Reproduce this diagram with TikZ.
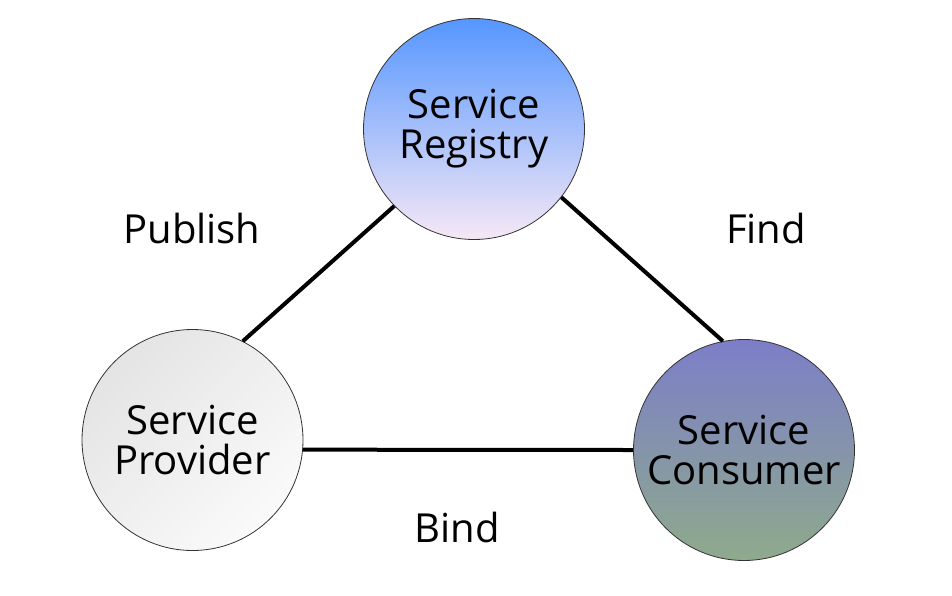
\documentclass[tikz,border=0pt]{standalone}
\usepackage{fontspec}
\setmainfont{Open Sans}
\usepackage{tikz}
\definecolor{regtop}{RGB}{85,150,255}
\definecolor{regbot}{RGB}{246,232,246}
\definecolor{provdark}{RGB}{228,228,228}
\definecolor{provlight}{RGB}{250,250,250}
\definecolor{constop}{RGB}{124,126,200}
\definecolor{consbot}{RGB}{142,170,140}

\begin{document}
\begin{tikzpicture}
  [x=1pt,y=-1pt,every node/.style={font=\fontsize{40}{40}\selectfont,align=center},
   service/.style={circle,draw=black!80,line width=0.8pt,minimum size=221pt,inner sep=0pt}]
  \useasboundingbox (0,0) rectangle (952,595);

  \node[service,top color=regtop,bottom color=regbot] (reg) at (474,129) {Service\\Registry};
  \node[service,left color=provdark,right color=provlight,shading angle=45] (prov) at (192.5,440) {Service\\Provider};
  \node[service,top color=constop,bottom color=consbot] (cons) at (744,450) {Service\\Consumer};

  \node (publish) at (192,228) {Publish};
  \node (find) at (766,228) {Find};
  \node (bind) at (457,527) {Bind};

  \foreach \from/\to in {reg.224/prov.63,reg.-38/cons.101,prov.-5/cons.180}
    \draw[line width=4pt] (\from) -- (\to);
\end{tikzpicture}
\end{document}
